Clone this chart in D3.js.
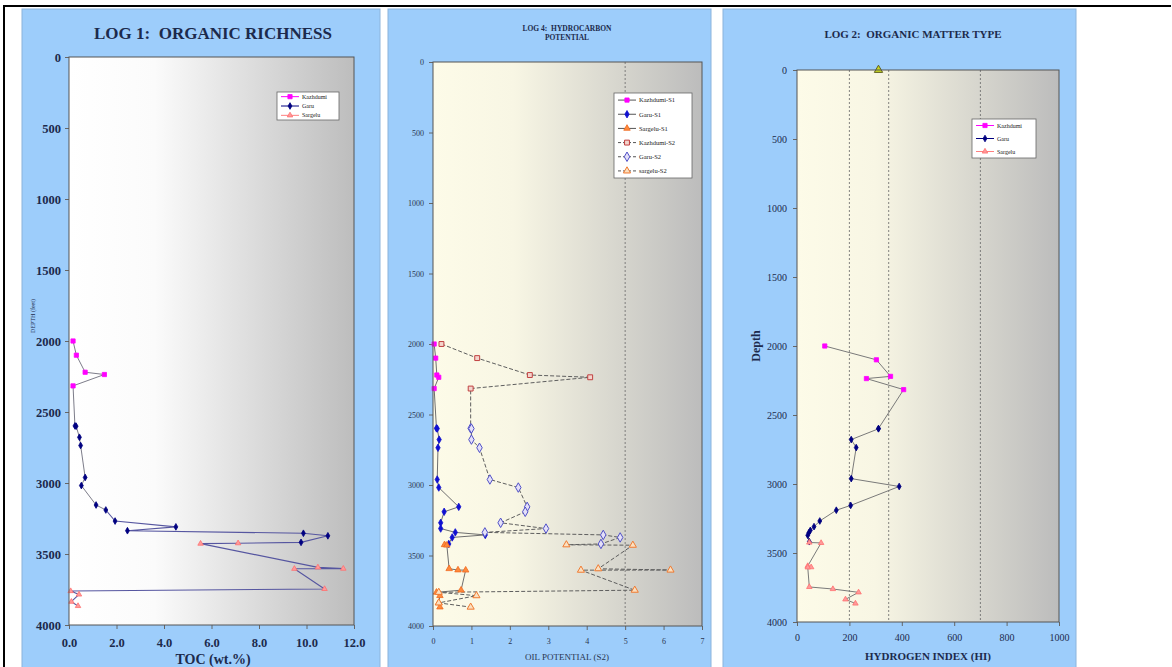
<!DOCTYPE html>
<html>
<head>
<meta charset="utf-8">
<script src="https://cdn.jsdelivr.net/npm/d3@7"></script>
<style>
  body { margin: 0; background: #ffffff; }
  svg { display: block; font-family: "Liberation Serif", "Times New Roman", serif; }
  text { white-space: pre; }
</style>
</head>
<body>
<svg id="chart" width="1172" height="667"></svg>
<script>
// ---- Sample data (depth in feet) ----
const kazDepth = [2000, 2100, 2220, 2236, 2316];
const kazTOC   = [0.17, 0.31, 0.68, 1.49, 0.17];
const kazS1    = [0.03, 0.07, 0.10, 0.15, 0.03];
const kazS2    = [0.22, 1.15, 2.52, 4.09, 0.98];
const kazHI    = [106, 303, 357, 265, 407];

const garuDepth = [2598, 2600, 2678, 2736, 2961, 3018, 3155, 3190, 3268, 3309, 3336, 3354, 3372, 3418];
const garuTOC   = [0.25, 0.30, 0.44, 0.49, 0.68, 0.52, 1.14, 1.55, 1.94, 4.50, 2.46, 9.87, 10.90, 9.77];
const garuS1    = [0.09, 0.11, 0.16, 0.13, 0.11, 0.15, 0.67, 0.29, 0.20, 0.20, 0.58, 1.36, 0.50, 0.41];
const garuS2    = [0.98, 1.00, 1.00, 1.21, 1.48, 2.22, 2.45, 2.40, 1.76, 2.94, 1.35, 4.43, 4.87, 4.37];
const garuHI    = [311, 311, 207, 226, 207, 390, 205, 150, 87, 65, 51, 45, 41, 47];

const sarDepth = [3424, 3427, 3594, 3603, 3604, 3746, 3761, 3785, 3836, 3866];
const sarTOC   = [7.12, 5.54, 10.48, 11.55, 9.49, 10.76, 0.07, 0.42, 0.10, 0.38];
const sarS1    = [0.30, 0.36, 0.42, 0.65, 0.85, 0.73, 0.09, 0.18, 0.15, 0.18];
const sarS2    = [3.47, 5.20, 4.30, 6.18, 3.85, 5.25, 0.15, 1.13, 0.15, 0.98];
const sarHI    = [47, 92, 41, 54, 41, 47, 137, 235, 185, 223];

// sample plotted without a depth value
const undatedHI = [311];
const undatedDepth = [0];

// ---- Axis ticks ----
const depthTicks = [0, 500, 1000, 1500, 2000, 2500, 3000, 3500, 4000];
const tocTicks = [0, 2, 4, 6, 8, 10, 12];
const s2Ticks = [0, 1, 2, 3, 4, 5, 6, 7];
const hiTicks = [0, 200, 400, 600, 800, 1000];

// reference lines
const s2Cutoffs = [5];
const hiCutoffs = [200, 350, 700];

// ---- Legend labels ----
const logLegend = ["Kazhdumi", "Garu", "Sargelu"];
const potLegend = ["Kazhdumi-S1", "Garu-S1", "Sargelu-S1", "Kazhdumi-S2", "Garu-S2", "sargelu-S2"];

const svg = d3.select("#chart");
const NAVY = "#1c2a4c";

// outer frame
svg.append("line").attr("x1", 3).attr("x2", 1171).attr("y1", 6).attr("y2", 6)
  .attr("stroke", "#000").attr("stroke-width", 2);
svg.append("line").attr("x1", 4).attr("x2", 4).attr("y1", 6).attr("y2", 667)
  .attr("stroke", "#000").attr("stroke-width", 2);

const defs = svg.append("defs");
function gradient(id, stops) {
  const g = defs.append("linearGradient").attr("id", id)
    .attr("x1", "0%").attr("x2", "100%").attr("y1", "0%").attr("y2", "0%");
  stops.forEach(s => g.append("stop").attr("offset", s[0]).attr("stop-color", s[1]));
}
gradient("gWhite", [["0%", "#ffffff"], ["30%", "#fbfbfb"], ["100%", "#bdbdbd"]]);
gradient("gCream", [["0%", "#fdfbe8"], ["30%", "#f8f6e4"], ["100%", "#bcbcbc"]]);

// marker shapes
const shapes = {
  square: d3.symbolSquare,
  diamond: d3.symbolDiamond,
  circle: d3.symbolCircle,
  triangle: d3.symbolTriangle
};

function drawMarkers(g, x, y, vals, depths, m) {
  const sym = d3.symbol().type(shapes[m.shape]).size(m.size);
  g.selectAll(null).data(vals.map((v, i) => [v, depths[i]])).enter()
    .append("path")
    .attr("d", sym)
    .attr("transform", d => `translate(${x(d[0])},${y(d[1])})`)
    .attr("fill", m.fill)
    .attr("stroke", m.stroke)
    .attr("stroke-width", m.sw || 0.8);
}

function drawLine(g, x, y, vals, depths, st) {
  const line = d3.line().x(d => x(d[0])).y(d => y(d[1]));
  g.append("path")
    .datum(vals.map((v, i) => [v, depths[i]]))
    .attr("d", line)
    .attr("fill", "none")
    .attr("stroke", st.color)
    .attr("stroke-width", st.width || 1)
    .attr("stroke-dasharray", st.dash || null);
}

function panel(cfg) {
  // light blue chart background
  svg.append("rect").attr("x", cfg.bg[0]).attr("y", cfg.bg[1])
    .attr("width", cfg.bg[2]).attr("height", cfg.bg[3])
    .attr("fill", "#9dcdfb").attr("stroke", "#8cb4dc").attr("stroke-width", 1);

  const p = cfg.plot;
  const x = d3.scaleLinear().domain(cfg.xDomain).range([p[0], p[0] + p[2]]);
  const y = d3.scaleLinear().domain([0, 4000]).range([p[1], p[1] + p[3]]);

  svg.append("rect").attr("x", p[0]).attr("y", p[1]).attr("width", p[2]).attr("height", p[3])
    .attr("fill", `url(#${cfg.grad})`);

  // axes
  const yAxis = d3.axisLeft(y).tickValues(depthTicks).tickSize(4).tickPadding(cfg.yPad)
    .tickFormat(d3.format("d"));
  const xAxis = d3.axisBottom(x).tickValues(cfg.xTicks).tickSize(4).tickPadding(cfg.xPad)
    .tickFormat(cfg.xFormat);
  const ya = svg.append("g").attr("transform", `translate(${p[0]},0)`).call(yAxis);
  const xa = svg.append("g").attr("transform", `translate(0,${p[1] + p[3]})`).call(xAxis);
  [ya, xa].forEach(a => {
    a.select(".domain").remove();
    a.selectAll(".tick line").attr("stroke", "#666");
    a.selectAll("text").attr("fill", cfg.tickColor).style("font-family", "Liberation Serif")
      .style("font-size", cfg.tickSize + "px").style("font-weight", cfg.tickWeight);
  });

  const g = svg.append("g");
  cfg.draw(g, x, y);

  // plot frame
  svg.append("rect").attr("x", p[0]).attr("y", p[1]).attr("width", p[2]).attr("height", p[3])
    .attr("fill", "none").attr("stroke", "#555").attr("stroke-width", 1);

  return { x, y };
}

function title(lines, cx, y0, size, lh) {
  lines.forEach((t, i) => {
    svg.append("text").attr("x", cx).attr("y", y0 + i * lh)
      .attr("text-anchor", "middle").attr("fill", NAVY)
      .style("font-size", size + "px").style("font-weight", "bold").text(t);
  });
}

function legend(box, rows, fontSize) {
  const [bx, by, bw, bh] = box;
  svg.append("rect").attr("x", bx).attr("y", by).attr("width", bw).attr("height", bh)
    .attr("fill", "#ffffff").attr("stroke", "#666").attr("stroke-width", 0.8);
  const step = bh / rows.length;
  rows.forEach((r, i) => {
    const cy = by + step * (i + 0.5);
    svg.append("line").attr("x1", bx + 4).attr("x2", bx + 22).attr("y1", cy).attr("y2", cy)
      .attr("stroke", r.line).attr("stroke-width", 1).attr("stroke-dasharray", r.dash || null);
    svg.append("path").attr("d", d3.symbol().type(shapes[r.m.shape]).size(r.m.size)())
      .attr("transform", `translate(${bx + 13},${cy})`)
      .attr("fill", r.m.fill).attr("stroke", r.m.stroke).attr("stroke-width", r.m.sw || 0.8);
    svg.append("text").attr("x", bx + 25).attr("y", cy).attr("dy", "0.35em")
      .attr("fill", "#222").style("font-size", fontSize + "px").text(r.label);
  });
}

// ---- marker styles ----
const mKaz = { shape: "square", size: 18, fill: "#ff00ff", stroke: "#ff00ff" };
const mGaru = { shape: "diamond", size: 13, fill: "#000080", stroke: "#000080" };
const mSar = { shape: "triangle", size: 13, fill: "#ff9a9a", stroke: "#ff7070" };
const mSarS1 = { shape: "triangle", size: 18, fill: "#ff8a3c", stroke: "#f06a20" };
const mGaruS1 = { shape: "diamond", size: 16, fill: "#1010d0", stroke: "#1010d0" };
const mKazS2 = { shape: "square", size: 24, fill: "#f4d4cc", stroke: "#c04040", sw: 1 };
const mGaruS2 = { shape: "diamond", size: 26, fill: "#e4e0f8", stroke: "#5050c8", sw: 1 };
const mSarS2 = { shape: "triangle", size: 22, fill: "#fbe0c0", stroke: "#f07a30", sw: 1 };

const allDepth = kazDepth.concat(garuDepth, sarDepth);

// ================= LOG 1 =================
panel({
  bg: [22, 9, 358, 662], plot: [69, 57, 285, 568], xDomain: [0, 12],
  xTicks: tocTicks, xFormat: d3.format(".1f"), grad: "gWhite",
  yPad: 4, xPad: 9, tickSize: 12.5, tickWeight: "bold", tickColor: NAVY,
  draw: (g, x, y) => {
    const toc = kazTOC.concat(garuTOC, sarTOC);
    drawLine(g, x, y, toc.slice(0, 13), allDepth.slice(0, 13), { color: "#7d7d8a", width: 1 });
    drawLine(g, x, y, toc.slice(12), allDepth.slice(12), { color: "#5656a0", width: 1.1 });
    drawMarkers(g, x, y, kazTOC, kazDepth, mKaz);
    drawMarkers(g, x, y, garuTOC, garuDepth, mGaru);
    drawMarkers(g, x, y, sarTOC, sarDepth, mSar);
  }
});
title(["LOG 1:  ORGANIC RICHNESS"], 213, 39, 17, 0);
svg.append("text").attr("x", 213).attr("y", 664).attr("text-anchor", "middle")
  .attr("fill", NAVY).style("font-size", "14px").style("font-weight", "bold").text("TOC (wt.%)");
svg.append("text").attr("transform", "translate(35,316) rotate(-90)").attr("text-anchor", "middle")
  .attr("fill", NAVY).style("font-size", "6px").text("DEPTH (feet)");
legend([277, 92, 62, 28], [
  { label: logLegend[0], line: "#ff00ff", m: mKaz },
  { label: logLegend[1], line: "#000080", m: mGaru },
  { label: logLegend[2], line: "#ff8080", m: mSar }
], 6);

// ================= LOG 4 =================
panel({
  bg: [388, 9, 323, 662], plot: [433, 62, 269, 564], xDomain: [0, 7],
  xTicks: s2Ticks, xFormat: d3.format("d"), grad: "gCream",
  yPad: 5, xPad: 8, tickSize: 8, tickWeight: "normal", tickColor: "#2a3550",
  draw: (g, x, y) => {
    s2Cutoffs.forEach(c => g.append("line").attr("x1", x(c)).attr("x2", x(c))
      .attr("y1", y(0)).attr("y2", y(4000)).attr("stroke", "#666")
      .attr("stroke-width", 0.8).attr("stroke-dasharray", "2,2"));
    drawLine(g, x, y, kazS1.concat(garuS1, sarS1), allDepth, { color: "#6f6f6f", width: 1 });
    drawLine(g, x, y, kazS2.concat(garuS2, sarS2), allDepth, { color: "#5e5e5e", width: 1, dash: "4,2" });
    drawMarkers(g, x, y, kazS1, kazDepth, mKaz);
    drawMarkers(g, x, y, garuS1, garuDepth, mGaruS1);
    drawMarkers(g, x, y, sarS1, sarDepth, mSarS1);
    drawMarkers(g, x, y, kazS2, kazDepth, mKazS2);
    drawMarkers(g, x, y, garuS2, garuDepth, mGaruS2);
    drawMarkers(g, x, y, sarS2, sarDepth, mSarS2);
  }
});
title(["LOG 4:  HYDROCARBON", "POTENTIAL"], 567, 31, 7.5, 9);
svg.append("text").attr("x", 567).attr("y", 660).attr("text-anchor", "middle")
  .attr("fill", "#2a3550").style("font-size", "9px").text("OIL POTENTIAL (S2)");
legend([614, 93, 78, 85], [
  { label: potLegend[0], line: "#555", m: mKaz },
  { label: potLegend[1], line: "#555", m: mGaruS1 },
  { label: potLegend[2], line: "#555", m: mSarS1 },
  { label: potLegend[3], line: "#555", dash: "3,2", m: mKazS2 },
  { label: potLegend[4], line: "#555", dash: "3,2", m: mGaruS2 },
  { label: potLegend[5], line: "#555", dash: "3,2", m: mSarS2 }
], 6.5);

// ================= LOG 2 =================
panel({
  bg: [723, 9, 353, 662], plot: [797, 70, 262, 552], xDomain: [0, 1000],
  xTicks: hiTicks, xFormat: d3.format("d"), grad: "gCream",
  yPad: 6, xPad: 8, tickSize: 10, tickWeight: "normal", tickColor: NAVY,
  draw: (g, x, y) => {
    hiCutoffs.forEach(c => g.append("line").attr("x1", x(c)).attr("x2", x(c))
      .attr("y1", y(0)).attr("y2", y(4000)).attr("stroke", "#666")
      .attr("stroke-width", 0.8).attr("stroke-dasharray", "2,2"));
    drawLine(g, x, y, kazHI.concat(garuHI, sarHI), allDepth, { color: "#7a7a7a", width: 1 });
    drawMarkers(g, x, y, kazHI, kazDepth, mKaz);
    drawMarkers(g, x, y, garuHI, garuDepth, mGaru);
    drawMarkers(g, x, y, sarHI, sarDepth, mSar);
    drawMarkers(g, x, y, undatedHI, undatedDepth,
      { shape: "triangle", size: 30, fill: "#c8d820", stroke: "#606020", sw: 1 });
  }
});
title(["LOG 2:  ORGANIC MATTER TYPE"], 913, 38, 11, 0);
svg.append("text").attr("x", 928).attr("y", 660).attr("text-anchor", "middle")
  .attr("fill", NAVY).style("font-size", "11px").style("font-weight", "bold").text("HYDROGEN INDEX (HI)");
svg.append("text").attr("transform", "translate(760,346) rotate(-90)").attr("text-anchor", "middle")
  .attr("fill", NAVY).style("font-size", "12px").style("font-weight", "bold").text("Depth");
legend([972, 119, 64, 39], [
  { label: logLegend[0], line: "#ff00ff", m: mKaz },
  { label: logLegend[1], line: "#000080", m: mGaru },
  { label: logLegend[2], line: "#ff8080", m: mSar }
], 6);
</script>
</body>
</html>
